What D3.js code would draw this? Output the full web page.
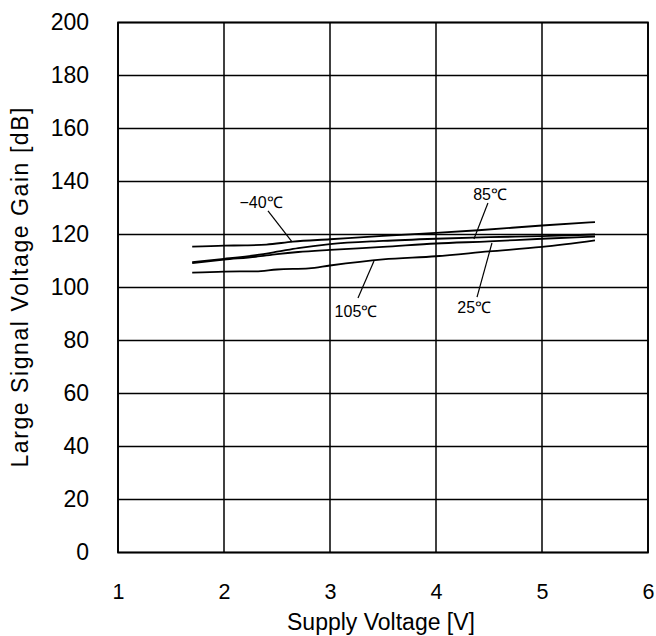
<!DOCTYPE html>
<html><head><meta charset="utf-8">
<script src="https://cdn.jsdelivr.net/npm/d3@7"></script>
<style>body{margin:0;background:#fff}svg{display:block}</style>
</head><body>
<script>
const xTicks = [1, 2, 3, 4, 5, 6];
const yTicks = [0, 20, 40, 60, 80, 100, 120, 140, 160, 180, 200];
const voltN40 = [1.7, 2.0, 2.2, 2.4, 2.65, 3.0, 3.5, 4.0, 4.4, 5.0, 5.5];
const gainN40 = [115.4, 115.8, 115.9, 116.2, 117.3, 118.2, 119.5, 120.6, 121.6, 123.4, 124.7];
const volt85 = [1.7, 2.0, 2.3, 2.5, 2.7, 3.0, 3.5, 4.0, 4.5, 5.0, 5.5];
const gain85 = [109.6, 110.8, 112.2, 113.5, 114.9, 116.4, 117.6, 118.4, 119.0, 119.4, 120.0];
const volt25 = [1.7, 2.0, 2.3, 2.5, 2.7, 3.0, 3.5, 4.0, 4.5, 5.0, 5.5];
const gain25 = [109.2, 110.5, 111.6, 112.6, 113.4, 114.2, 115.3, 116.6, 117.4, 118.4, 119.2];
const volt105 = [1.7, 2.0, 2.3, 2.5, 2.8, 3.0, 3.5, 4.0, 4.5, 5.0, 5.5];
const gain105 = [105.6, 106.0, 106.1, 106.8, 107.2, 108.3, 110.6, 111.8, 113.6, 115.3, 117.8];
const labels = ["\u221240\u2103", "85\u2103", "25\u2103", "105\u2103"];
// label anchor (V, gain) and leader from/to (V, gain)
const labelPos = [[2.35, 130.0], [4.51, 133.0], [4.36, 90.5], [3.245, 89.0]];
const leaderFrom = [[2.415, 128.9], [4.49, 131.9], [4.387, 96.4], [3.264, 96.0]];
const leaderTo = [[2.642, 117.2], [4.358, 118.3], [4.528, 116.8], [3.415, 110.0]];

const W = 656, H = 636;
const m = {l: 118, r: 8, t: 22.5, b: 83.5};
const svg = d3.select("body").append("svg").attr("width", W).attr("height", H);
const x = d3.scaleLinear().domain([1, 6]).range([m.l, W - m.r]);
const y = d3.scaleLinear().domain([0, 200]).range([H - m.b, m.t]);
const font = "Liberation Sans, Arial, sans-serif";

// grid
svg.append("g").selectAll("line.v").data(xTicks).join("line")
  .attr("x1", d => x(d)).attr("x2", d => x(d)).attr("y1", y(0)).attr("y2", y(200))
  .attr("stroke", "#000").attr("stroke-width", 1.5);
svg.append("g").selectAll("line.h").data(yTicks).join("line")
  .attr("x1", x(1)).attr("x2", x(6)).attr("y1", d => y(d)).attr("y2", d => y(d))
  .attr("stroke", "#000").attr("stroke-width", 1.5);
svg.append("rect").attr("x", x(1)).attr("y", y(200)).attr("width", x(6) - x(1)).attr("height", y(0) - y(200))
  .attr("fill", "none").attr("stroke", "#000").attr("stroke-width", 1.8);

// axes (labels only)
const xa = svg.append("g").attr("transform", `translate(0,${y(0)})`)
  .call(d3.axisBottom(x).tickValues(xTicks).tickSize(0).tickPadding(31).tickFormat(d3.format("d")));
const ya = svg.append("g").attr("transform", `translate(${x(1)},0)`)
  .call(d3.axisLeft(y).tickValues(yTicks).tickSize(0).tickPadding(29).tickFormat(d3.format("d")));
xa.select(".domain").remove();
ya.select(".domain").remove();
xa.selectAll("text").attr("font-family", font).attr("font-size", 21.5).attr("fill", "#000");
ya.selectAll("text").attr("font-family", font).attr("font-size", 23).attr("fill", "#000");

// titles
svg.append("text").attr("x", (x(1) + x(6)) / 2 - 2).attr("y", 630).attr("text-anchor", "middle")
  .attr("font-family", font).attr("font-size", 23).text("Supply Voltage [V]");
svg.append("text").attr("transform", `translate(28,${(y(0) + y(200)) / 2}) rotate(-90)`)
  .attr("text-anchor", "middle").attr("font-family", font).attr("font-size", 23)
  .attr("textLength", 360).attr("lengthAdjust", "spacing")
  .text("Large Signal Voltage Gain [dB]");

// curves
const series = [[voltN40, gainN40], [volt85, gain85], [volt25, gain25], [volt105, gain105]];
const line = d3.line().x(d => x(d[0])).y(d => y(d[1])).curve(d3.curveMonotoneX);
svg.append("g").selectAll("path").data(series).join("path")
  .attr("d", s => line(d3.zip(s[0], s[1])))
  .attr("fill", "none").attr("stroke", "#000").attr("stroke-width", 1.8);

// annotations
svg.append("g").selectAll("line").data(d3.range(labels.length)).join("line")
  .attr("x1", i => x(leaderFrom[i][0])).attr("y1", i => y(leaderFrom[i][1]))
  .attr("x2", i => x(leaderTo[i][0])).attr("y2", i => y(leaderTo[i][1]))
  .attr("stroke", "#000").attr("stroke-width", 1.2);
svg.append("g").selectAll("text").data(d3.range(labels.length)).join("text")
  .attr("x", i => x(labelPos[i][0])).attr("y", i => y(labelPos[i][1]))
  .attr("text-anchor", "middle").attr("font-family", font).attr("font-size", 16)
  .text(i => labels[i]);
</script>
</body></html>
